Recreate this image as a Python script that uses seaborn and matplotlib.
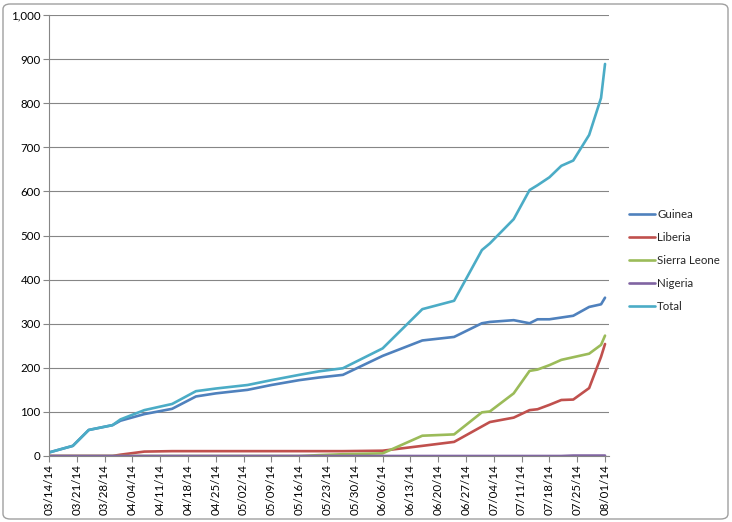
import matplotlib
matplotlib.use("Agg")
import matplotlib.pyplot as plt
import matplotlib.dates as mdates
from matplotlib.patches import FancyBboxPatch
from matplotlib.ticker import FuncFormatter, MultipleLocator
import seaborn as sns
import pandas as pd
import numpy as np

dates = ["2014-03-14", "2014-03-20", "2014-03-24", "2014-03-30", "2014-04-01",
         "2014-04-07", "2014-04-14", "2014-04-20", "2014-04-25", "2014-05-03",
         "2014-05-09", "2014-05-16", "2014-05-21", "2014-05-27", "2014-06-06",
         "2014-06-16", "2014-06-24", "2014-07-01", "2014-07-03", "2014-07-09",
         "2014-07-13", "2014-07-15", "2014-07-18", "2014-07-21", "2014-07-24",
         "2014-07-28", "2014-07-31", "2014-08-01"]
guinea = [8, 23, 59, 70, 80, 95, 107, 135, 142, 150, 161, 172, 178, 184, 227,
          262, 270, 301, 304, 308, 301, 310, 310, 314, 318, 338, 344, 359]
liberia = [0, 0, 0, 0, 3, 10, 11, 11, 11, 11, 11, 11, 11, 11, 12,
           23, 32, 67, 77, 87, 104, 106, 116, 127, 128, 154, 225, 254]
sierra_leone = [0, 0, 0, 0, 0, 0, 0, 0, 0, 0, 0, 0, 2, 4, 6,
                46, 49, 99, 101, 142, 193, 196, 206, 218, 224, 232, 252, 273]
nigeria = [0, 0, 0, 0, 0, 0, 0, 0, 0, 0, 0, 0, 0, 0, 0,
           0, 0, 0, 0, 0, 0, 0, 0, 0, 1, 1, 1, 1]
total = [8, 23, 59, 70, 83, 104, 118, 147, 153, 161, 172, 184, 192, 199, 244,
         333, 352, 467, 482, 537, 603, 614, 632, 658, 670, 728, 812, 889]

series_names = ["Guinea", "Liberia", "Sierra Leone", "Nigeria", "Total"]
colors = ["#4F81BD", "#C0504D", "#9BBB59", "#8064A2", "#4BACC6"]

frames = []
for name, vals in zip(series_names, [guinea, liberia, sierra_leone, nigeria, total]):
    frames.append(pd.DataFrame({"date": pd.to_datetime(dates), "value": vals, "series": name}))
df = pd.concat(frames, ignore_index=True)

sns.set_theme(style="white")
plt.rcParams["font.family"] = ["Lato", "DejaVu Sans"]

fig = plt.figure(figsize=(7.32, 5.22), dpi=100)
ax = fig.add_axes([49 / 732, 1 - 456 / 522, (609 - 49) / 732, (456 - 15) / 522])

sns.lineplot(data=df, x="date", y="value", hue="series", hue_order=series_names,
             palette=colors, linewidth=1.9, ax=ax, legend=True)

ax.set_ylim(0, 1000)
ax.yaxis.set_major_locator(MultipleLocator(100))
ax.yaxis.set_major_formatter(FuncFormatter(lambda v, p: f"{int(v):,}"))
start = pd.Timestamp("2014-03-14")
ticks = pd.date_range(start, "2014-08-01", freq="7D")
ax.set_xlim(mdates.date2num(start), mdates.date2num(pd.Timestamp("2014-08-02")))
ax.set_xticks(mdates.date2num(ticks))
ax.set_xticklabels([t.strftime("%m/%d/%y") for t in ticks], rotation=90)
ax.set_xlabel("")
ax.set_ylabel("")

ax.grid(axis="y", color="#868686", linewidth=0.8)
ax.grid(axis="x", visible=False)
ax.set_axisbelow(True)
for s in ["top", "right"]:
    ax.spines[s].set_visible(False)
ax.spines["left"].set_color("#868686")
ax.spines["bottom"].set_color("#868686")
ax.spines["left"].set_linewidth(0.8)
ax.spines["bottom"].set_linewidth(0.8)
ax.tick_params(axis="both", which="major", length=4, width=0.8, color="#868686",
               labelsize=8.3, labelcolor="black", pad=2, left=True, bottom=True)

handles, labels = ax.get_legend_handles_labels()
ax.legend(handles, labels, loc="upper left", bbox_to_anchor=(623 / 732, 1 - 203 / 522),
          bbox_transform=fig.transFigure, frameon=False, fontsize=8.3,
          handlelength=2.3, handletextpad=0.15, labelspacing=1.05, borderpad=0)

border = FancyBboxPatch((3 / 732, 3 / 522), 725 / 732, 515 / 522,
                        boxstyle="round,pad=0,rounding_size=0.01",
                        transform=fig.transFigure, fill=False,
                        edgecolor="#A0A0A0", linewidth=1.0)
fig.patches.append(border)

fig.savefig("out.png", dpi=100)
